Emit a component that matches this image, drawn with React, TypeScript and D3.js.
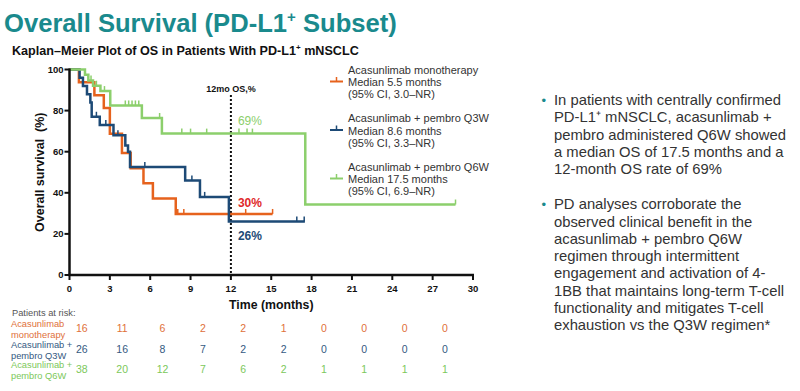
import { useMemo } from 'react';
import * as d3 from 'd3';

const FONT = '"Liberation Sans", Arial, sans-serif';

const ORANGE = '#e6621d';
const BLUE = '#1d4a76';
const GREEN = '#8ccf6c';
const TEAL = '#1a8a8d';

// step points: [time (months), survival %]
const monoSteps: [number, number][] = [
  [0, 100], [0.7, 93.75], [1.85, 87.5], [2.55, 81.25], [3.0, 68.75], [3.9, 59.4],
  [4.55, 52], [5.5, 44.6], [6.2, 37.2], [7.9, 29.7], [15.1, 29.7],
];
const monoCensor = [8.05, 8.5, 13.1, 15.1];

const q3wSteps: [number, number][] = [
  [0, 100], [0.75, 96], [1.0, 92], [1.3, 88], [1.55, 84], [1.65, 77], [2.25, 73],
  [3.27, 68], [4.15, 63], [4.35, 60], [4.5, 52.5], [8.6, 46], [9.7, 38], [11.85, 26],
  [17.5, 26],
];
const q3wCensor = [2.0, 2.7, 3.6, 5.6, 9.1, 10.05, 16.9, 17.45];

const q6wSteps: [number, number][] = [
  [0, 100], [1.15, 97.4], [1.4, 94.7], [1.75, 92.1], [2.3, 89.5], [3.03, 82.5],
  [5.38, 76.4], [6.87, 68.8], [17.53, 34.3], [28.7, 34.3],
];
const q6wCensor = [1.6, 2.0, 2.6, 4.15, 4.4, 4.65, 4.9, 5.15, 6.7, 8.35, 9.0, 10.2, 12.6, 13.2, 13.6, 28.7];

const xTicks = [0, 3, 6, 9, 12, 15, 18, 21, 24, 27, 30];
const yTicks = [0, 20, 40, 60, 80, 100];
const riskTimes = [0, 3, 6, 9, 12, 15, 18, 21, 24, 27];
const monoRisk = [16, 11, 6, 2, 2, 1, 0, 0, 0, 0];
const q3wRisk = [26, 16, 8, 7, 2, 2, 0, 0, 0, 0];
const q6wRisk = [38, 20, 12, 7, 6, 2, 1, 1, 1, 1];

const legendItems = [
  { color: ORANGE, lines: ['Acasunlimab monotherapy', 'Median 5.5 months', '(95% CI, 3.0–NR)'] },
  { color: BLUE, lines: ['Acasunlimab + pembro Q3W', 'Median 8.6 months', '(95% CI, 3.3–NR)'] },
  { color: GREEN, lines: ['Acasunlimab + pembro Q6W', 'Median 17.5 months', '(95% CI, 6.9–NR)'] },
];

const riskRows = [
  { color: '#e0703a', label: ['Acasunlimab', 'monotherapy'], values: monoRisk },
  { color: '#34597f', label: ['Acasunlimab +', 'pembro Q3W'], values: q3wRisk },
  { color: '#7cc85a', label: ['Acasunlimab +', 'pembro Q6W'], values: q6wRisk },
];

const bullets = [
  ['In patients with centrally confirmed', 'PD-L1⁺ mNSCLC, acasunlimab +', 'pembro administered Q6W showed',
    'a median OS of 17.5 months and a', '12-month OS rate of 69%'],
  ['PD analyses corroborate the', 'observed clinical benefit in the', 'acasunlimab + pembro Q6W',
    'regimen through intermittent', 'engagement and activation of 4-', '1BB that maintains long-term T-cell',
    'functionality and mitigates T-cell', 'exhaustion vs the Q3W regimen*'],
];

const survAt = (steps: [number, number][], t: number) => {
  let s = steps[0][1];
  for (const [tt, v] of steps) if (tt <= t) s = v;
  return s;
};

export default function App() {
  const x = d3.scaleLinear().domain([0, 30]).range([69.5, 473]);
  const y = d3.scaleLinear().domain([0, 100]).range([275, 69.5]);

  const line = useMemo(() => d3.line<[number, number]>()
    .x(d => x(d[0])).y(d => y(d[1])).curve(d3.curveStepAfter), []);

  const series = [
    { steps: monoSteps, censor: monoCensor, color: ORANGE },
    { steps: q3wSteps, censor: q3wCensor, color: BLUE },
    { steps: q6wSteps, censor: q6wCensor, color: GREEN },
  ];

  return (
    <div style={{ position: 'absolute', left: 0, top: 0 }}>
      <svg width={800} height={391} style={{ display: 'block', background: '#fff' }} fontFamily={FONT}>
        {/* title */}
        <text x={4} y={32} fontSize={25.6} fontWeight="bold" fill={TEAL}>
          Overall Survival (PD-L1<tspan dy={-10} fontSize={15}>+</tspan><tspan dy={10}> Subset)</tspan>
        </text>
        <text x={12} y={55} fontSize={12.6} fontWeight="bold" fill="#111">
          Kaplan–Meier Plot of OS in Patients With PD-L1<tspan dy={-5} fontSize={8}>+</tspan><tspan dy={5}> mNSCLC</tspan>
        </text>

        {/* y axis label */}
        <text transform={`translate(44,${y(50)}) rotate(-90)`} textAnchor="middle" fontSize={12.5}
          fontWeight="bold" fill="#111" style={{ whiteSpace: 'pre' }}>
          {'Overall survival  (%)'}
        </text>

        {/* 12 mo line */}
        <line x1={x(12)} x2={x(12)} y1={95} y2={y(0)} stroke="#111" strokeWidth={2} strokeDasharray="2,2" />
        <text x={x(12)} y={92} textAnchor="middle" fontSize={9} fontWeight="bold" fill="#111">12mo OS,%</text>

        {/* curves */}
        {series.map((s, i) => (
          <g key={i}>
            <path d={line(s.steps) ?? ''} fill="none" stroke={s.color} strokeWidth={2.5} />
            {s.censor.map((c, j) => (
              <line key={j} x1={x(c)} x2={x(c)} y1={y(survAt(s.steps, c))} y2={y(survAt(s.steps, c)) - 5}
                stroke={s.color} strokeWidth={1.5} />
            ))}
          </g>
        ))}

        {/* annotations */}
        <text x={x(12) + 7} y={125} fontSize={12} fill={GREEN}>69%</text>
        <text x={x(12) + 7} y={207} fontSize={12} fontWeight="bold" fill="#e0282a">30%</text>
        <text x={x(12) + 7} y={240} fontSize={12} fontWeight="bold" fill={BLUE}>26%</text>

        {/* axes */}
        <line x1={x(0)} x2={x(0)} y1={y(100) - 1} y2={y(0) + 1} stroke="#111" strokeWidth={2.5} />
        <line x1={x(0) - 1} x2={x(30) + 1} y1={y(0)} y2={y(0)} stroke="#111" strokeWidth={2.5} />
        {yTicks.map(t => (
          <g key={t}>
            <line x1={x(0) - 5} x2={x(0)} y1={y(t)} y2={y(t)} stroke="#111" strokeWidth={2} />
            <text x={x(0) - 6} y={y(t)} dy="0.35em" textAnchor="end" fontSize={9.5} fontWeight="bold" fill="#111">{t}</text>
          </g>
        ))}
        {xTicks.map(t => (
          <g key={t}>
            <line x1={x(t)} x2={x(t)} y1={y(0)} y2={y(0) + 5} stroke="#111" strokeWidth={2} />
            <text x={x(t)} y={y(0) + 14} dy="0.35em" textAnchor="middle" fontSize={9.5} fontWeight="bold" fill="#111">{t}</text>
          </g>
        ))}
        <text x={x(15)} y={305} dy="0.35em" textAnchor="middle" fontSize={12.3} fontWeight="bold" fill="#111">Time (months)</text>

        {/* legend */}
        {legendItems.map((it, i) => {
          const top = 70 + i * 48.5;
          return (
            <g key={i}>
              <line x1={330} x2={343} y1={top + 11.5} y2={top + 11.5} stroke={it.color} strokeWidth={2} />
              <line x1={336.5} x2={336.5} y1={top + 11.5} y2={top + 7} stroke={it.color} strokeWidth={1.5} />
              {it.lines.map((l, k) => (
                <text key={k} x={348} y={top + k * 12.2} dy="0.35em" fontSize={11} fill="#333">{l}</text>
              ))}
            </g>
          );
        })}

        {/* risk table */}
        <text x={12} y={312.5} dy="0.35em" fontSize={9.3} fill="#555">Patients at risk:</text>
        {riskRows.map((r, i) => {
          const cy = 328.7 + i * 20.3;
          return (
            <g key={i} fill={r.color}>
              <text x={11} y={cy - 4.5} dy="0.35em" fontSize={9.3}>{r.label[0]}</text>
              <text x={11} y={cy + 6.5} dy="0.35em" fontSize={9.3}>{r.label[1]}</text>
              {r.values.map((v, j) => (
                <text key={j} x={x(riskTimes[j]) + 12.3} y={cy} dy="0.35em" textAnchor="middle" fontSize={10.5}>{v}</text>
              ))}
            </g>
          );
        })}

        {/* bullets */}
        {bullets.map((b, i) => {
          const top = i === 0 ? 100 : 204.3;
          return (
            <g key={i}>
              <text x={541.5} y={top} dy="0.35em" fontSize={13} fill={TEAL}>•</text>
              {b.map((l, k) => (
                <text key={k} x={554} y={top + k * 17.25} dy="0.35em" fontSize={14.8} fill="#333">{l}</text>
              ))}
            </g>
          );
        })}
      </svg>
    </div>
  );
}
